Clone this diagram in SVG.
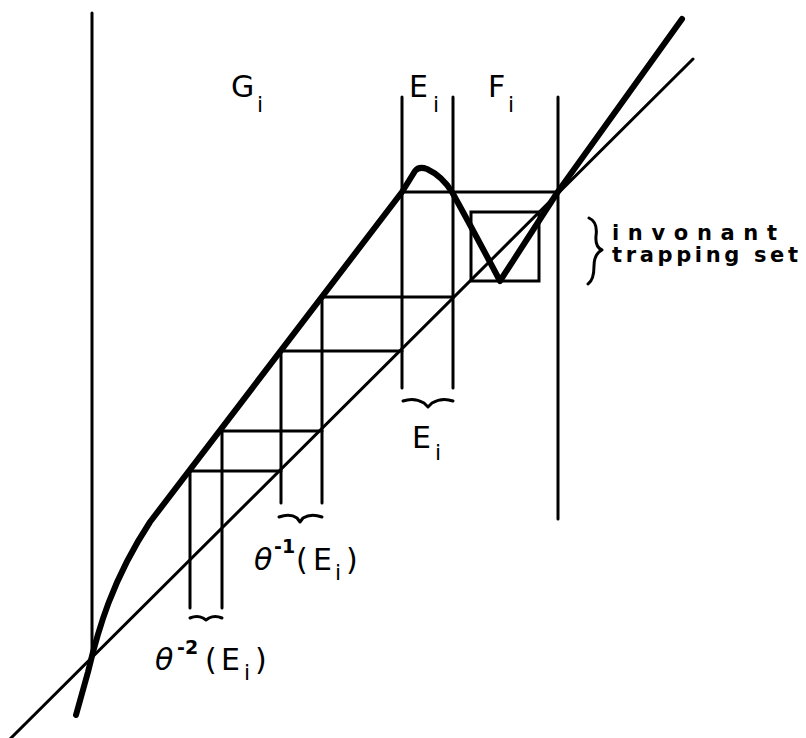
<svg xmlns="http://www.w3.org/2000/svg" width="806" height="738" viewBox="0 0 806 738">
<style>
.thin{fill:none;stroke:#000;stroke-width:3;stroke-linecap:round}
.thick{fill:none;stroke:#000;stroke-width:6;stroke-linecap:round;stroke-linejoin:round}
.brace{fill:none;stroke:#000;stroke-width:3;stroke-linecap:round;stroke-linejoin:round}
text{font-family:"DejaVu Sans","Liberation Sans",sans-serif;fill:#000}
.lab{font-size:30px}
.sub{font-size:22px}
.sup{font-size:19px;font-weight:bold}
.note{font-size:21px;font-weight:bold}
</style>
<rect width="806" height="738" fill="#fff"/>
<g id="connectors">
<line class="thin" x1="10" y1="739" x2="693" y2="59"/>
<line class="thin" x1="92" y1="13" x2="92" y2="657"/>
<line class="thin" x1="558" y1="97" x2="558" y2="519"/>
<line class="thin" x1="402" y1="97" x2="402" y2="388"/>
<line class="thin" x1="453" y1="97" x2="453" y2="388"/>
<line class="thin" x1="402" y1="192" x2="557" y2="192"/>
<rect class="thin" x="471" y="212" width="68" height="69"/>
<line class="thin" x1="322" y1="297" x2="453" y2="297"/>
<line class="thin" x1="281" y1="351" x2="402" y2="351"/>
<line class="thin" x1="220" y1="431" x2="322" y2="431"/>
<line class="thin" x1="190" y1="471" x2="281" y2="471"/>
<line class="thin" x1="281" y1="351" x2="281" y2="503"/>
<line class="thin" x1="322" y1="297" x2="322" y2="503"/>
<line class="thin" x1="190" y1="471" x2="190" y2="608"/>
<line class="thin" x1="222" y1="431" x2="222" y2="608"/>
<path class="thick" d="M76,715 L88,672 C98,630 112,580 150,522 L402,192 L415,171 Q419,166 427,169 Q442,176 452,192 Q472,228 500,281 L557,193 L682,19"/>
</g>
<g id="label-Gi"><text class="lab" x="231" y="97">G</text><text class="sub" x="257" y="112">i</text></g>
<g id="label-Ei-top"><text class="lab" x="409" y="97">E</text><text class="sub" x="433" y="112">i</text></g>
<g id="label-Fi"><text class="lab" x="488" y="97">F</text><text class="sub" x="508" y="112">i</text></g>
<g id="brace-Ei">
<path class="brace" d="M403,401 Q414,397 424,403 L428,407 L432,403 Q442,397 453,401"/>
<text class="lab" x="412" y="448">E</text><text class="sub" x="435" y="460">i</text>
</g>
<g id="brace-theta1">
<path class="brace" d="M279,517 Q290,513 297,518 L300,522 L303,518 Q311,513 322,517"/>
<text class="lab"><tspan x="254" y="570" font-style="italic">θ</tspan><tspan class="sup" x="274" y="553">-1</tspan><tspan x="296" y="570">(</tspan><tspan x="313" y="570">E</tspan><tspan class="sub" x="335" y="580">i</tspan><tspan x="346" y="570">)</tspan></text>
</g>
<g id="brace-theta2">
<path class="brace" d="M190,618 Q197,615 203,618 L206,620 L209,618 Q215,615 222,618"/>
<text class="lab"><tspan x="155" y="670" font-style="italic">θ</tspan><tspan class="sup" x="177" y="654">-2</tspan><tspan x="205" y="670">(</tspan><tspan x="221" y="670">E</tspan><tspan class="sub" x="244" y="680">i</tspan><tspan x="255" y="670">)</tspan></text>
</g>
<g id="label-trapping">
<path class="brace" d="M589,218 Q598,222 596,236 Q595,247 602,250 Q594,254 594,266 Q594,280 588,284"/>
<text class="note" x="612" y="240" textLength="165" lengthAdjust="spacing">invonant</text>
<text class="note" x="612" y="262" textLength="186" lengthAdjust="spacing">trapping set</text>
</g>
</svg>
